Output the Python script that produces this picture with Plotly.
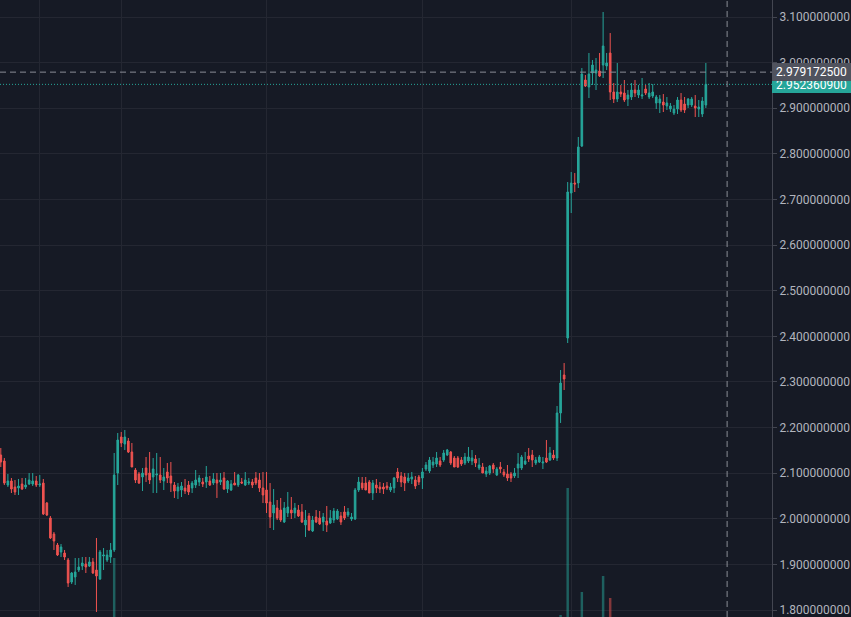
import plotly.graph_objects as go

# ---------------- data ----------------
opens = [2.1399, 2.1267, 2.0741, 2.0829, 2.0697, 2.0676, 2.0763, 2.0697, 2.0763, 2.0763,
         2.0829, 2.0741, 2.0785, 2.0347, 2.0018, 1.9667, 1.9426, 1.9273, 1.9251, 1.9097,
         1.8615, 1.8725, 1.8878, 1.8966, 1.9010, 1.8966, 1.9054, 1.8878, 1.8681, 1.9185,
         1.9097, 1.9163, 1.9317, 2.1004, 2.1794, 2.1640, 2.1706, 2.1465, 2.1070, 2.0983,
         2.0917, 2.1114, 2.1004, 2.0917, 2.0961, 2.0961, 2.0829, 2.1026, 2.0939, 2.0741,
         2.0610, 2.0632, 2.0676, 2.0741, 2.0676, 2.0741, 2.0807, 2.0807, 2.0807, 2.0829,
         2.0785, 2.0851, 2.0807, 2.0895, 2.0654, 2.0632, 2.0785, 2.0741, 2.0807, 2.0741,
         2.0785, 2.0807, 2.0895, 2.0851, 2.0676, 2.0632, 2.0369, 2.0128, 2.0237, 2.0193,
         1.9930, 2.0128, 2.0193, 2.0128, 2.0193, 2.0150, 1.9865, 2.0062, 1.9733, 2.0040,
         2.0018, 1.9930, 1.9952, 1.9908, 1.9974, 1.9996, 2.0062, 2.0150, 2.0084, 1.9996,
         1.9996, 2.0632, 2.0785, 2.0785, 2.0807, 2.0566, 2.0741, 2.0697, 2.0697, 2.0719,
         2.0632, 2.0676, 2.1026, 2.0939, 2.0917, 2.0829, 2.0873, 2.0851, 2.0917, 2.0895,
         2.1092, 2.1048, 2.1180, 2.1202, 2.1267, 2.1289, 2.1399, 2.1465, 2.1333, 2.1333,
         2.1289, 2.1224, 2.1267, 2.1267, 2.1311, 2.1114, 2.1136, 2.0983, 2.1004, 2.1180,
         2.0961, 2.1136, 2.1026, 2.0983, 2.0983, 2.0939, 2.1114, 2.1114, 2.1202, 2.1377,
         2.1399, 2.1224, 2.1246, 2.1224, 2.1333, 2.1289, 2.1399, 2.1333, 2.2320, 2.3153,
         2.3964, 2.7142, 2.7361, 2.7361, 2.8172, 2.9619, 2.9466, 2.9772, 2.9772, 2.9816,
         2.9948, 2.9926, 3.0211, 2.9356, 2.9202, 2.9356, 2.9334, 2.9202, 2.9246, 2.9400,
         2.9290, 2.9268, 2.9422, 2.9246, 2.9268, 2.9115, 2.9115, 2.9137, 2.9049, 2.8983,
         2.8896, 2.8983, 2.9181, 2.9093, 2.9071, 2.9071, 2.9049, 2.8983, 2.8874, 2.9071]

highs = [2.1552, 2.1333, 2.0983, 2.0895, 2.0851, 2.0873, 2.0895, 2.0895, 2.1004, 2.1004,
         2.0939, 2.0961, 2.0873, 2.0369, 2.0062, 1.9711, 1.9470, 1.9448, 1.9317, 1.9141,
         1.8834, 1.9141, 1.9141, 1.9163, 1.9163, 1.9163, 1.9141, 1.9580, 1.9317, 1.9360,
         1.9317, 1.9470, 2.1443, 2.1881, 2.1903, 2.1947, 2.1772, 2.1662, 2.1114, 2.1026,
         2.1114, 2.1355, 2.1465, 2.1333, 2.1443, 2.1355, 2.1114, 2.1224, 2.1246, 2.0807,
         2.0785, 2.0807, 2.0873, 2.0829, 2.0829, 2.1070, 2.0961, 2.0895, 2.1158, 2.0939,
         2.1004, 2.1004, 2.1004, 2.1026, 2.0851, 2.0851, 2.1026, 2.0983, 2.0895, 2.1026,
         2.0895, 2.0873, 2.1026, 2.1004, 2.1026, 2.1026, 2.0785, 2.0654, 2.0413, 2.0457,
         2.0369, 2.0588, 2.0478, 2.0347, 2.0303, 2.0325, 2.0193, 2.0128, 2.0062, 2.0193,
         2.0171, 2.0128, 2.0281, 2.0193, 2.0237, 2.0215, 2.0150, 2.0281, 2.0237, 2.0128,
         2.0676, 2.0917, 2.0917, 2.0917, 2.0851, 2.0851, 2.0873, 2.0807, 2.0785, 2.0807,
         2.0785, 2.0917, 2.1114, 2.1026, 2.1004, 2.1004, 2.1026, 2.0939, 2.0961, 2.1114,
         2.1246, 2.1355, 2.1355, 2.1465, 2.1355, 2.1509, 2.1531, 2.1487, 2.1377, 2.1377,
         2.1355, 2.1443, 2.1574, 2.1509, 2.1399, 2.1333, 2.1224, 2.1136, 2.1180, 2.1224,
         2.1136, 2.1246, 2.1092, 2.1180, 2.1026, 2.1114, 2.1443, 2.1399, 2.1465, 2.1552,
         2.1509, 2.1355, 2.1399, 2.1355, 2.1728, 2.1574, 2.1509, 2.2473, 2.3262, 2.3415,
         2.7383, 2.7602, 2.7580, 2.8370, 2.9882, 2.9728, 3.0211, 3.0057, 3.0101, 3.0211,
         3.1110, 3.0211, 3.0649, 2.9553, 2.9992, 2.9509, 2.9619, 2.9400, 2.9553, 2.9619,
         2.9509, 2.9663, 2.9509, 2.9553, 2.9531, 2.9290, 2.9290, 2.9312, 2.9246, 2.9115,
         2.9071, 2.9246, 2.9334, 2.9246, 2.9224, 2.9246, 2.9290, 2.9181, 2.9246, 2.9992]

lows = [2.1136, 2.0741, 2.0697, 2.0566, 2.0522, 2.0522, 2.0632, 2.0654, 2.0741, 2.0719,
        2.0697, 2.0697, 2.0084, 2.0062, 1.9558, 1.9317, 1.9185, 1.9163, 1.9097, 1.8506,
        1.8571, 1.8550, 1.8834, 1.8878, 1.8812, 1.8944, 1.8791, 1.7958, 1.8659, 1.8878,
        1.9054, 1.9032, 1.9273, 2.0741, 2.1574, 2.1509, 2.1443, 2.1136, 2.0785, 2.0763,
        2.0610, 2.0807, 2.0763, 2.0566, 2.0566, 2.0785, 2.0632, 2.0785, 2.0588, 2.0457,
        2.0435, 2.0478, 2.0544, 2.0522, 2.0566, 2.0676, 2.0719, 2.0697, 2.0676, 2.0719,
        2.0741, 2.0457, 2.0741, 2.0632, 2.0566, 2.0610, 2.0741, 2.0697, 2.0763, 2.0719,
        2.0741, 2.0676, 2.0741, 2.0588, 2.0347, 2.0128, 1.9799, 1.9755, 1.9974, 1.9930,
        1.9908, 2.0040, 1.9996, 2.0018, 2.0040, 1.9908, 1.9602, 1.9733, 1.9711, 1.9908,
        1.9865, 1.9733, 1.9711, 1.9887, 1.9908, 1.9974, 1.9865, 1.9974, 2.0040, 1.9952,
        1.9974, 2.0588, 2.0632, 2.0632, 2.0566, 2.0413, 2.0566, 2.0566, 2.0544, 2.0632,
        2.0588, 2.0566, 2.0807, 2.0697, 2.0610, 2.0785, 2.0763, 2.0654, 2.0741, 2.0654,
        2.1048, 2.1004, 2.1114, 2.1136, 2.1136, 2.1246, 2.1377, 2.1180, 2.1136, 2.1114,
        2.1158, 2.1180, 2.1224, 2.1180, 2.1136, 2.1070, 2.1004, 2.0917, 2.0961, 2.1004,
        2.0939, 2.1004, 2.0917, 2.0829, 2.0807, 2.0895, 2.0895, 2.1070, 2.1180, 2.1246,
        2.1136, 2.1180, 2.1224, 2.1092, 2.1224, 2.1267, 2.1289, 2.1267, 2.2101, 2.2824,
        2.3854, 2.6704, 2.7164, 2.7252, 2.8150, 2.9466, 2.9224, 2.9509, 2.9400, 2.9685,
        2.9663, 2.9838, 2.9181, 2.9115, 2.9137, 2.9246, 2.9137, 2.9049, 2.9181, 2.9246,
        2.9224, 2.9202, 2.9290, 2.9202, 2.9224, 2.8983, 2.8896, 2.8918, 2.8961, 2.8918,
        2.8852, 2.8874, 2.8918, 2.8896, 2.9005, 2.9027, 2.8808, 2.8808, 2.8808, 2.9005]

closes = [2.1246, 2.0785, 2.0829, 2.0654, 2.0588, 2.0719, 2.0654, 2.0741, 2.0851, 2.0829,
          2.0741, 2.0763, 2.0106, 2.0084, 1.9580, 1.9514, 1.9207, 1.9382, 1.9163, 1.8593,
          1.8812, 1.8834, 1.8944, 1.9032, 1.8944, 1.9054, 1.8812, 1.8747, 1.9273, 1.9207,
          1.9207, 1.9317, 2.0961, 2.1728, 2.1662, 2.1794, 2.1465, 2.1136, 2.0851, 2.0785,
          2.1004, 2.0961, 2.0851, 2.1092, 2.0983, 2.0851, 2.0917, 2.0895, 2.0785, 2.0610,
          2.0697, 2.0719, 2.0610, 2.0588, 2.0785, 2.0851, 2.0895, 2.0763, 2.0917, 2.0741,
          2.0873, 2.0785, 2.0851, 2.0654, 2.0829, 2.0763, 2.0741, 2.0961, 2.0785, 2.0851,
          2.0807, 2.0741, 2.0785, 2.0676, 2.0522, 2.0347, 2.0040, 2.0303, 2.0018, 1.9974,
          2.0237, 2.0259, 2.0128, 2.0237, 2.0062, 1.9930, 1.9974, 1.9755, 1.9974, 1.9930,
          1.9887, 2.0040, 1.9865, 2.0018, 2.0171, 2.0171, 1.9930, 2.0018, 2.0150, 2.0040,
          2.0632, 2.0807, 2.0676, 2.0632, 2.0566, 2.0785, 2.0676, 2.0654, 2.0654, 2.0676,
          2.0697, 2.0895, 2.0895, 2.0807, 2.0785, 2.0895, 2.0917, 2.0719, 2.0807, 2.1026,
          2.1180, 2.1289, 2.1246, 2.1333, 2.1180, 2.1443, 2.1509, 2.1224, 2.1136, 2.1136,
          2.1202, 2.1355, 2.1355, 2.1333, 2.1224, 2.1180, 2.1004, 2.1048, 2.1158, 2.1092,
          2.1092, 2.1092, 2.0961, 2.0895, 2.0895, 2.1004, 2.1202, 2.1355, 2.1267, 2.1311,
          2.1289, 2.1289, 2.1355, 2.1246, 2.1246, 2.1443, 2.1333, 2.2320, 2.2977, 2.3065,
          2.7164, 2.7361, 2.7339, 2.8150, 2.9750, 2.9488, 2.9750, 2.9948, 2.9838, 2.9707,
          3.0364, 2.9992, 2.9356, 2.9202, 2.9356, 2.9312, 2.9181, 2.9290, 2.9400, 2.9334,
          2.9400, 2.9290, 2.9334, 2.9334, 2.9356, 2.9246, 2.9202, 2.9071, 2.9115, 2.9049,
          2.8983, 2.9181, 2.8961, 2.8961, 2.9202, 2.9202, 2.9005, 2.9027, 2.9159, 2.9523609]

bar_index = list(range(len(closes)))

# only these volume bars reach into the visible part of the pane
vol_bar_index = [32, 158, 160, 164, 170, 172]
vol_values = [54.5, 26.0, 89.5, 37.5, 45.5, 34.5]

price_ticks = [1.8, 1.9, 2.0, 2.1, 2.2, 2.3, 2.4, 2.5, 2.6, 2.7, 2.8, 2.9, 3.0, 3.1]
time_grid_bars = [11, 34, 75, 119, 161]

crosshair_price = 2.9791725
crosshair_bar = 205
last_price = closes[-1]

# ---------------- style ----------------
BG = "#161a25"
GRID = "#242732"
UP = "#26a69a"
DOWN = "#ef5350"
TEXT = "#b2b5be"
FONT = "Roboto, 'Noto Sans', sans-serif"

vol_colors = ["rgba(38,166,154,0.5)" if closes[i] >= opens[i] else "rgba(239,83,80,0.5)"
              for i in vol_bar_index]

fig = go.Figure()

fig.add_trace(go.Bar(
    x=vol_bar_index, y=vol_values, yaxis="y2",
    marker=dict(color=vol_colors, line=dict(width=0)),
    width=0.7, hoverinfo="skip", showlegend=False,
))

fig.add_trace(go.Candlestick(
    x=bar_index, open=opens, high=highs, low=lows, close=closes,
    increasing=dict(line=dict(color=UP, width=1), fillcolor=UP),
    decreasing=dict(line=dict(color=DOWN, width=1), fillcolor=DOWN),
    whiskerwidth=0, showlegend=False,
))

fig.update_layout(
    width=851, height=617,
    margin=dict(l=0, r=79, t=0, b=0),
    paper_bgcolor=BG, plot_bgcolor=BG,
    font=dict(family=FONT, size=12, color=TEXT),
    showlegend=False,
    boxgap=0.35,
    xaxis=dict(
        range=[-0.226, 217.67], rangeslider=dict(visible=False),
        tickvals=time_grid_bars, showticklabels=False, ticks="",
        showgrid=True, gridcolor=GRID, gridwidth=1,
        zeroline=False, showline=False, fixedrange=True,
    ),
    yaxis=dict(
        side="right", range=[1.7848, 3.1373],
        tickvals=price_ticks, tickformat=".9f",
        ticks="outside", ticklen=4, tickcolor="#434651",
        tickfont=dict(family=FONT, size=12, color=TEXT),
        ticklabeloverflow="allow",
        showgrid=True, gridcolor=GRID, gridwidth=1,
        zeroline=False, showline=True, linecolor="#434651", linewidth=1,
    ),
    yaxis2=dict(
        overlaying="y", range=[25, 333.5], visible=False,
        showgrid=False, zeroline=False,
    ),
)

# price line (last close) and crosshair
fig.add_shape(type="line", xref="paper", yref="y", x0=0, x1=1,
              y0=last_price, y1=last_price,
              line=dict(color=UP, width=1, dash="1px,2px"))
fig.add_shape(type="line", xref="paper", yref="y", x0=0, x1=1,
              y0=crosshair_price, y1=crosshair_price,
              line=dict(color="#8a8d96", width=1, dash="6px,4px"))
fig.add_shape(type="line", xref="x", yref="paper", x0=crosshair_bar, x1=crosshair_bar,
              y0=0, y1=1,
              line=dict(color="#8a8d96", width=1, dash="6px,4px"))

# price-scale labels (price label first, crosshair label on top)
fig.add_annotation(
    xref="paper", yref="y", x=1.0, y=last_price, xanchor="left", yanchor="middle",
    text=f"{last_price:.9f}", showarrow=False, width=79, height=17,
    bgcolor=UP, borderpad=0, borderwidth=0, align="center",
    font=dict(family=FONT, size=12, color="#ffffff"),
)
fig.add_annotation(
    xref="paper", yref="y", x=1.0, y=crosshair_price, xanchor="left", yanchor="middle",
    text=f"{crosshair_price:.9f}", showarrow=False, width=79, height=18,
    bgcolor="#50535e", borderpad=0, borderwidth=0, align="center",
    font=dict(family=FONT, size=12, color="#ffffff"),
)

fig.write_html(
    "out.html",
    config={"displayModeBar": False},
    post_script="document.body.style.margin='0';document.body.style.overflow='hidden';document.body.style.background='#161a25';",
)
